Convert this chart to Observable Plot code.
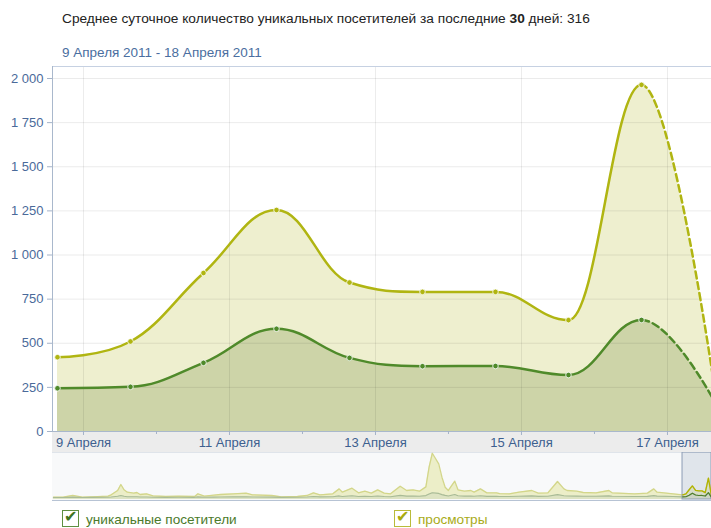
<!DOCTYPE html>
<html>
<head>
<meta charset="utf-8">
<script src="https://cdn.jsdelivr.net/npm/d3@7"></script>
<script src="https://cdn.jsdelivr.net/npm/@observablehq/plot@0.6"></script>
<style>
  html, body { margin:0; padding:0; }
  body { width:711px; height:528px; overflow:hidden; position:relative; background:#fff; font-family:"Liberation Sans", Arial, sans-serif; }
  .abs { position:absolute; }
  #title { left:62px; top:11px; font-size:13.7px; line-height:16px; color:#222; white-space:nowrap; }
  #sub { left:62px; top:45px; font-size:13.5px; line-height:16px; color:#4a6ea0; white-space:nowrap; }
  #band { left:52px; top:431px; width:659px; height:21px; background:#ececec; }
  #navbg { left:52px; top:452px; width:659px; height:47px; background:#f8f9fa; border-top:1px solid #dfe4ea; border-bottom:1px solid #b7c3d4; }
  .lg { position:absolute; top:510px; height:16px; font-size:13.6px; line-height:16px; white-space:nowrap; }
  .box { position:absolute; top:0; left:0; width:15px; height:15px; background:#fff; border:1px solid; }
  .chk { position:absolute; left:1px; top:-3px; font-size:16px; line-height:18px; font-family:"DejaVu Sans"; font-weight:bold; }
  .lt { position:absolute; left:24px; top:2px; }
</style>
</head>
<body>
<div id="title" class="abs">Среднее суточное количество уникальных посетителей за последние <b>30</b> дней: 316</div>
<div id="sub" class="abs">9 Апреля 2011 - 18 Апреля 2011</div>
<div id="band" class="abs"></div>
<div id="main" class="abs" style="left:0;top:60px"></div>
<div id="navbg" class="abs"></div>
<div id="nav" class="abs" style="left:0;top:452px"></div>
<div class="lg" style="left:62px">
  <div class="box" style="border-color:#5f8f40"><span class="chk" style="color:#3f7420">✔</span></div>
  <span class="lt" style="color:#4b7a2b">уникальные посетители</span>
</div>
<div class="lg" style="left:394px">
  <div class="box" style="border-color:#b9bb3a"><span class="chk" style="color:#a9ab10">✔</span></div>
  <span class="lt" style="color:#a8ab18">просмотры</span>
</div>
<script>
// ---- data ----
const days = ["9 Апреля","10 Апреля","11 Апреля","12 Апреля","13 Апреля","14 Апреля","15 Апреля","16 Апреля","17 Апреля","18 Апреля"];
const views    = [421, 510, 898, 1255, 844, 791, 791, 631, 1964, 250];
const visitors = [245, 253, 389, 582, 417, 370, 371, 320, 632, 170];
const yTicks = [0, 250, 500, 750, 1000, 1250, 1500, 1750, 2000];
const xTickLabels = ["9 Апреля","11 Апреля","13 Апреля","15 Апреля","17 Апреля"];
const xTickDays = [0, 2, 4, 6, 8];
const xMinorDays = [1, 3, 5, 7];
const lastCompleteDay = 8;

// navigator history (day offsets relative to 9 Апреля)
const navDays = [-196,-193,-190,-187,-184,-179,-178,-176,-175,-174,-173,-171,-170,-169,-167,-165,-161,-157,-152,-151,-149,-146,-144,-140,-136,-134,-128,-125,-120,-117,-115,-113,-109,-107,-106,-103,-101,-99,-97,-95,-93,-91,-88,-86,-84,-82,-80,-79,-78,-76,-75,-74,-73,-71,-70,-68,-66,-65,-63,-61,-58,-57,-54,-51,-47,-45,-42,-39,-37,-36,-33,-31,-27,-23,-22,-15,-11,-9,-8,-3];
const navViews = [215,215,370,215,245,310,430,830,1380,890,675,585,645,460,520,340,275,310,275,520,310,400,460,520,585,430,370,245,275,370,615,430,520,980,675,1045,615,765,585,890,585,520,1225,830,890,765,1165,2975,4260,3280,2055,1135,830,1690,890,765,830,675,980,615,615,550,520,675,830,585,615,1655,980,830,765,645,615,830,615,520,585,980,675,520];
const navVisitors = [190,190,220,190,200,210,230,300,370,300,260,250,250,230,230,210,200,210,200,240,210,220,230,240,250,230,220,200,210,230,280,240,250,330,280,340,270,300,270,320,270,260,380,310,320,300,360,500,620,560,450,380,330,460,340,310,320,300,340,290,290,280,280,300,330,290,300,450,350,320,310,300,300,330,300,280,290,360,310,280];

const rows = days.map((label, i) => ({i, label, views: views[i], visitors: visitors[i]}));
const navRows = navDays.map((d, k) => ({i: d, views: navViews[k], visitors: navVisitors[k]})).concat(rows);

// ---- layout constants ----
const xDomain = [-0.0685, 8.959];
const tickShift = 0.356; // day boundaries relative to data points
const YEL = "#b0b512", GRN = "#4f8a2a";
const fmt = d => d3.format(",")(d).replace(/,/g, " ");

// spline curve in the style of the original chart (smoothing 1.5, no overshoot)
function splineCurve(context) {
  return {
    _line: NaN,
    areaStart() { this._line = 0; },
    areaEnd() { this._line = NaN; },
    lineStart() { this._x = []; this._y = []; },
    point(x, y) { this._x.push(+x); this._y.push(+y); },
    lineEnd() {
      const X = this._x, Y = this._y, n = X.length, s = 1.5, den = 2.5;
      if (n) {
        if (this._line) context.lineTo(X[0], Y[0]); else context.moveTo(X[0], Y[0]);
        const lc = [], rc = [];
        for (let i = 0; i < n; i++) {
          if (i > 0 && i < n - 1) {
            const px = X[i], py = Y[i], lx0 = X[i-1], ly0 = Y[i-1], nx = X[i+1], ny = Y[i+1];
            let lx = (s * px + lx0) / den, ly = (s * py + ly0) / den;
            let rx = (s * px + nx) / den, ry = (s * py + ny) / den;
            if (rx !== lx) {
              const corr = ((ry - ly) * (rx - px)) / (rx - lx) + py - ry;
              ly += corr; ry += corr;
            }
            if (ly > ly0 && ly > py) { ly = Math.max(ly0, py); ry = 2 * py - ly; }
            else if (ly < ly0 && ly < py) { ly = Math.min(ly0, py); ry = 2 * py - ly; }
            if (ry > ny && ry > py) { ry = Math.max(ny, py); ly = 2 * py - ry; }
            else if (ry < ny && ry < py) { ry = Math.min(ny, py); ly = 2 * py - ry; }
            lc[i] = [lx, ly]; rc[i] = [rx, ry];
          } else {
            lc[i] = [X[i], Y[i]]; rc[i] = [X[i], Y[i]];
          }
        }
        for (let i = 1; i < n; i++) context.bezierCurveTo(rc[i-1][0], rc[i-1][1], lc[i][0], lc[i][1], X[i], Y[i]);
      }
      if (this._line || (this._line !== 0 && n === 1)) context.closePath();
      this._line = 1 - this._line;
    }
  };
}

let clipCounter = 0;
function clipX(fromI, toI) {
  return function(index, scales, values, dims, context, next) {
    const g = next(index, scales, values, dims, context);
    const id = "clipx" + (clipCounter++);
    const x0 = fromI == null ? 0 : scales.x(fromI);
    const x1 = toI == null ? dims.width : scales.x(toI);
    const wrap = d3.create("svg:g");
    wrap.append("clipPath").attr("id", id).append("rect")
      .attr("x", x0).attr("y", 0).attr("width", x1 - x0).attr("height", dims.height);
    g.setAttribute("clip-path", `url(#${id})`);
    wrap.node().appendChild(g);
    return wrap.node();
  };
}

const main = Plot.plot({
  width: 711, height: 392,
  marginLeft: 52, marginRight: 0, marginTop: 6, marginBottom: 21,
  x: {domain: xDomain, axis: null, label: null},
  y: {domain: [0, 2068], axis: null, label: null},
  style: {background: "transparent", fontFamily: "Liberation Sans, Arial, sans-serif", fontSize: "13px"},
  marks: [
    Plot.areaY(rows, {x: "i", y: "views", fill: "#eeefcf", curve: splineCurve}),
    Plot.areaY(rows, {x: "i", y: "visitors", fill: "#cdd4a8", curve: splineCurve}),
    Plot.gridY(yTicks.slice(1), {stroke: "#000", strokeOpacity: 0.08}),
    Plot.gridX(xTickDays.map(d => d + tickShift), {stroke: "#000", strokeOpacity: 0.08}),
    Plot.ruleY([2068], {stroke: "#c6d1e2"}),
    Plot.ruleX([xDomain[0]], {stroke: "#a9b8cc"}),
    Plot.ruleY([0], {stroke: "#a9b8cc"}),
    // solid part
    Plot.line(rows, {x: "i", y: "views", stroke: YEL, strokeWidth: 2.5, curve: splineCurve, render: clipX(null, lastCompleteDay)}),
    Plot.line(rows, {x: "i", y: "visitors", stroke: GRN, strokeWidth: 2.5, curve: splineCurve, render: clipX(null, lastCompleteDay)}),
    // dashed (incomplete) part
    Plot.line(rows, {x: "i", y: "views", stroke: YEL, strokeWidth: 2.5, strokeDasharray: "7,4", curve: splineCurve, render: clipX(lastCompleteDay, null)}),
    Plot.line(rows, {x: "i", y: "visitors", stroke: GRN, strokeWidth: 2.5, strokeDasharray: "7,4", curve: splineCurve, render: clipX(lastCompleteDay, null)}),
    Plot.dot(rows.slice(0, lastCompleteDay + 1), {x: "i", y: "views", r: 2.8, fill: YEL, stroke: "#fff", strokeWidth: 0.8}),
    Plot.dot(rows.slice(0, lastCompleteDay + 1), {x: "i", y: "visitors", r: 2.8, fill: GRN, stroke: "#fff", strokeWidth: 0.8}),
    Plot.axisY(yTicks, {label: null, tickSize: 5, tickPadding: 4, tickFormat: fmt, stroke: "#a4b3c9", fill: "#4a6a9a", fontSize: 13}),
    Plot.axisX(xTickDays.map(d => d + tickShift), {label: null, tickSize: 4, tickPadding: 2, tickFormat: (d, k) => xTickLabels[k], stroke: "#a4b3c9", fill: "#3d5f8f", fontSize: 13}),
    Plot.axisX(xMinorDays.map(d => d + tickShift), {label: null, tickSize: 3, tickFormat: () => "", stroke: "#a4b3c9"})
  ]
});
document.getElementById("main").appendChild(main);

const nav = Plot.plot({
  width: 711, height: 50,
  marginLeft: 52, marginRight: 0, marginTop: 0, marginBottom: 3,
  x: {domain: [-196.3, xDomain[1]], axis: null},
  y: {domain: [0, 4330], axis: null},
  style: {background: "transparent"},
  marks: [
    Plot.areaY(navRows, {x: "i", y: "views", fill: "#eceec8"}),
    Plot.areaY(navRows, {x: "i", y: "visitors", fill: "#dde3c2"}),
    Plot.line(navRows, {x: "i", y: "views", stroke: "#d3d68a", strokeWidth: 1.3}),
    Plot.line(navRows, {x: "i", y: "visitors", stroke: "#a9bb96", strokeWidth: 1.1}),
    Plot.rect([{x1: xDomain[0], x2: xDomain[1]}], {x1: "x1", x2: "x2", fill: "#a8b6ca", fillOpacity: 0.3, stroke: "#8d9db5"}),
    Plot.line(rows, {x: "i", y: "views", stroke: "#b3b400", strokeWidth: 1.3}),
    Plot.line(rows, {x: "i", y: "visitors", stroke: "#4f7f2c", strokeWidth: 1.2})
  ]
});
document.getElementById("nav").appendChild(nav);
</script>
</body>
</html>
